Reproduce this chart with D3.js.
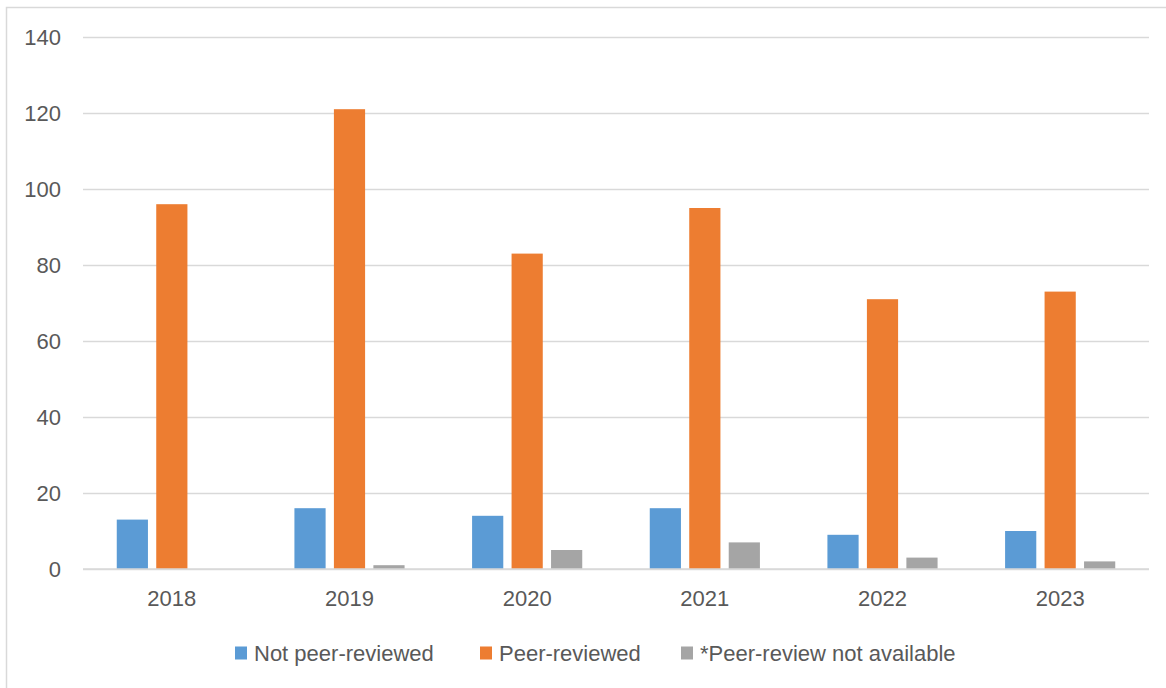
<!DOCTYPE html>
<html>
<head>
<meta charset="utf-8">
<script src="https://cdn.jsdelivr.net/npm/d3@7"></script>
<style>
  html, body { margin: 0; padding: 0; background: #fff; }
  svg { display: block; }
  text { font-family: "Liberation Sans", Arial, sans-serif; fill: #595959; }
</style>
</head>
<body>
<svg id="chart" width="1166" height="688"></svg>
<script>
const years = ["2018", "2019", "2020", "2021", "2022", "2023"];
const seriesNames = ["Not peer-reviewed", "Peer-reviewed", "*Peer-review not available"];
const notPeerReviewed = [13, 16, 14, 16, 9, 10];
const peerReviewed = [96, 121, 83, 95, 71, 73];
const notAvailable = [0, 1, 5, 7, 3, 2];
const seriesColors = ["#5B9BD5", "#ED7D31", "#A5A5A5"];
const yTicks = [0, 20, 40, 60, 80, 100, 120, 140];

const seriesValues = [notPeerReviewed, peerReviewed, notAvailable];

const svg = d3.select("#chart");

// outer chart border
svg.append("rect")
  .attr("x", 6.5).attr("y", 7.5)
  .attr("width", 1300).attr("height", 1000)
  .attr("fill", "none").attr("stroke", "#d9d9d9").attr("stroke-width", 1.5);

const plotLeft = 83, plotRight = 1149, plotTop = 37, plotBottom = 569;

const y = d3.scaleLinear().domain([0, 140]).range([plotBottom, plotTop]);
const x0 = d3.scaleBand().domain(years).range([plotLeft, plotRight]).padding(0);
const bw = x0.bandwidth();
const x1 = d3.scaleBand().domain(seriesNames)
  .range([bw * 0.19, bw * 0.81]).paddingInner(0.21).paddingOuter(0);

// gridlines
const yAxis = d3.axisLeft(y).tickValues(yTicks).tickSize(-(plotRight - plotLeft)).tickPadding(22);
const gy = svg.append("g").attr("transform", `translate(${plotLeft},0)`).call(yAxis);
gy.select(".domain").remove();
gy.selectAll(".tick line").attr("stroke", "#d9d9d9").attr("stroke-width", 1.3);
gy.selectAll(".tick text").attr("font-size", 22).attr("fill", "#595959")
  .style("font-family", "'Liberation Sans', Arial, sans-serif");

// bars
const groups = svg.append("g").selectAll("g").data(years).join("g")
  .attr("transform", d => `translate(${x0(d)},0)`);
groups.selectAll("rect")
  .data((yr, i) => seriesNames.map((s, k) => ({ s, k, v: seriesValues[k][i] })))
  .join("rect")
  .attr("x", d => x1(d.s))
  .attr("width", x1.bandwidth())
  .attr("y", d => y(d.v))
  .attr("height", d => y(0) - y(d.v))
  .attr("fill", d => seriesColors[d.k]);

// baseline redraw on top
svg.append("line")
  .attr("x1", plotLeft).attr("x2", plotRight)
  .attr("y1", y(0)).attr("y2", y(0))
  .attr("stroke", "#d9d9d9").attr("stroke-width", 1.5);

// x axis labels
const xAxis = d3.axisBottom(x0).tickSize(0).tickPadding(21);
const gx = svg.append("g").attr("transform", `translate(0,${plotBottom})`).call(xAxis);
gx.select(".domain").remove();
gx.selectAll(".tick text").attr("font-size", 22).attr("fill", "#595959")
  .style("font-family", "'Liberation Sans', Arial, sans-serif");

// legend
const legendX = [235, 480, 681];
const legend = svg.append("g");
seriesNames.forEach((name, k) => {
  const g = legend.append("g").attr("transform", `translate(${legendX[k]},653)`);
  g.append("rect").attr("x", 0).attr("y", -6.5).attr("width", 12).attr("height", 13)
    .attr("fill", seriesColors[k]);
  g.append("text").attr("x", 19).attr("y", 0).attr("dy", "0.36em")
    .attr("font-size", 22).text(name);
});
</script>
</body>
</html>
